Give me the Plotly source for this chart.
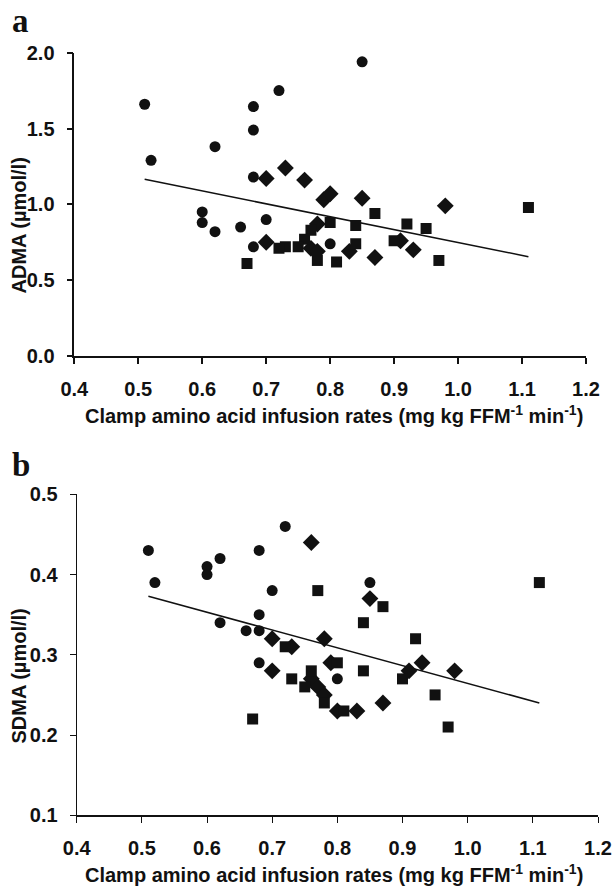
import plotly.graph_objects as go

# ---------------- data: panel a (ADMA) ----------------
a_circle_x = [0.51, 0.52, 0.62, 0.68, 0.68, 0.68, 0.72, 0.85, 0.60, 0.60, 0.62, 0.66, 0.70, 0.68, 0.80]
a_circle_y = [1.66, 1.29, 1.38, 1.645, 1.49, 1.18, 1.75, 1.94, 0.95, 0.88, 0.82, 0.85, 0.90, 0.72, 0.74]
a_diamond_x = [0.70, 0.73, 0.76, 0.79, 0.80, 0.85, 0.98, 0.70, 0.78, 0.77, 0.78, 0.83, 0.87, 0.91, 0.93]
a_diamond_y = [1.17, 1.24, 1.16, 1.03, 1.07, 1.04, 0.99, 0.75, 0.87, 0.71, 0.69, 0.69, 0.65, 0.76, 0.70]
a_square_x = [0.87, 1.11, 0.92, 0.95, 0.90, 0.97, 0.80, 0.84, 0.84, 0.77, 0.76, 0.75, 0.73, 0.72, 0.67, 0.78, 0.81]
a_square_y = [0.94, 0.98, 0.87, 0.84, 0.76, 0.63, 0.88, 0.86, 0.74, 0.83, 0.77, 0.72, 0.72, 0.71, 0.61, 0.63, 0.62]
a_fit_x = [0.51, 1.11]
a_fit_y = [1.165, 0.655]

# ---------------- data: panel b (SDMA) ----------------
b_circle_x = [0.51, 0.52, 0.60, 0.60, 0.62, 0.68, 0.72, 0.70, 0.62, 0.68, 0.66, 0.68, 0.85, 0.68, 0.80]
b_circle_y = [0.43, 0.39, 0.41, 0.40, 0.42, 0.43, 0.46, 0.38, 0.34, 0.35, 0.33, 0.33, 0.39, 0.29, 0.27]
b_diamond_x = [0.76, 0.85, 0.70, 0.78, 0.73, 0.79, 0.93, 0.70, 0.91, 0.98, 0.76, 0.77, 0.78, 0.80, 0.83, 0.87]
b_diamond_y = [0.44, 0.37, 0.32, 0.32, 0.31, 0.29, 0.29, 0.28, 0.28, 0.28, 0.27, 0.26, 0.25, 0.23, 0.23, 0.24]
b_square_x = [1.11, 0.77, 0.87, 0.84, 0.92, 0.72, 0.80, 0.76, 0.84, 0.90, 0.73, 0.75, 0.78, 0.81, 0.67, 0.95, 0.97]
b_square_y = [0.39, 0.38, 0.36, 0.34, 0.32, 0.31, 0.29, 0.28, 0.28, 0.27, 0.27, 0.26, 0.24, 0.23, 0.22, 0.25, 0.21]
b_fit_x = [0.51, 1.11]
b_fit_y = [0.373, 0.240]

x_ticks = [0.4, 0.5, 0.6, 0.7, 0.8, 0.9, 1.0, 1.1, 1.2]
a_y_ticks = [0.0, 0.5, 1.0, 1.5, 2.0]
b_y_ticks = [0.1, 0.2, 0.3, 0.4, 0.5]

x_title = "Clamp amino acid infusion rates (mg kg FFM<sup>-1</sup> min<sup>-1</sup>)"
a_y_title = "ADMA (µmol/l)"
b_y_title = "SDMA (µmol/l)"

# ---------------- layout helpers ----------------
W, H = 614, 890
def px(x):
    return x / W
def py(y):
    return 1 - y / H

INK = "#111111"
FONT = "Arial, Liberation Sans, sans-serif"

def bold_labels(vals):
    return ["<b>%.1f</b>" % v for v in vals]

fig = go.Figure()

def add_panel(cx, cy, dx, dy, sx, sy, fx, fy, xa, ya):
    fig.add_trace(go.Scatter(x=fx, y=fy, mode="lines", line=dict(color=INK, width=1.5),
                             xaxis=xa, yaxis=ya, hoverinfo="skip"))
    fig.add_trace(go.Scatter(x=cx, y=cy, mode="markers",
                             marker=dict(symbol="circle", size=11, color=INK),
                             xaxis=xa, yaxis=ya))
    fig.add_trace(go.Scatter(x=dx, y=dy, mode="markers",
                             marker=dict(symbol="diamond", size=13, color=INK),
                             xaxis=xa, yaxis=ya))
    fig.add_trace(go.Scatter(x=sx, y=sy, mode="markers",
                             marker=dict(symbol="square", size=11, color=INK),
                             xaxis=xa, yaxis=ya))

add_panel(a_circle_x, a_circle_y, a_diamond_x, a_diamond_y, a_square_x, a_square_y,
          a_fit_x, a_fit_y, "x", "y")
add_panel(b_circle_x, b_circle_y, b_diamond_x, b_diamond_y, b_square_x, b_square_y,
          b_fit_x, b_fit_y, "x2", "y2")

tickfont = dict(family=FONT, size=20, color=INK)
axis_common = dict(showline=True, linecolor=INK, ticks="outside", ticklen=6,
                   tickcolor=INK, showgrid=False, zeroline=False, tickfont=tickfont,
                   automargin=False)

fig.update_layout(
    template="none",
    width=W, height=H,
    margin=dict(l=0, r=0, t=0, b=0, pad=0),
    paper_bgcolor="white", plot_bgcolor="white",
    showlegend=False,
    xaxis=dict(domain=[px(74.3), px(586)], range=[0.4, 1.2], tickvals=x_ticks,
               ticktext=bold_labels(x_ticks),
               anchor="y", linewidth=2, tickwidth=1.5, ticklabelstandoff=8, **axis_common),
    yaxis=dict(domain=[py(356), py(52.7)], range=[0, 2.0], tickvals=a_y_ticks,
               ticktext=bold_labels(a_y_ticks),
               anchor="x", linewidth=1.5, tickwidth=1.5, ticklabelstandoff=8, **axis_common),
    xaxis2=dict(domain=[px(76.7), px(598)], range=[0.4, 1.2], tickvals=x_ticks,
                ticktext=bold_labels(x_ticks),
                anchor="y2", linewidth=1.5, tickwidth=1.2, ticklabelstandoff=8, **axis_common),
    yaxis2=dict(domain=[py(815.3), py(494.3)], range=[0.1, 0.5], tickvals=b_y_ticks,
                ticktext=bold_labels(b_y_ticks),
                anchor="x2", linewidth=1.2, tickwidth=1.2, ticklabelstandoff=8, **axis_common),
)

title_font = dict(family=FONT, size=20, color=INK)
label_font = dict(family="Times New Roman, Liberation Serif, serif", size=33, color=INK)

annotations = [
    dict(text="<b>" + x_title + "</b>", x=px(333.6), y=py(414), font=title_font),
    dict(text="<b>" + x_title + "</b>", x=px(333.6), y=py(873.5), font=title_font),
    dict(text="<b>" + a_y_title + "</b>", x=px(18.5), y=py(226), font=title_font, textangle=-90),
    dict(text="<b>" + b_y_title + "</b>", x=px(18.5), y=py(676), font=title_font, textangle=-90),
    dict(text="<b>a</b>", x=px(20), y=py(21), font=label_font),
    dict(text="<b>b</b>", x=px(21), y=py(465), font=label_font),
]
for a in annotations:
    fig.add_annotation(xref="paper", yref="paper", showarrow=False,
                       xanchor="center", yanchor="middle", **a)

fig.write_html(
    "out.html",
    config={"displayModeBar": False, "responsive": False},
    post_script="document.body.style.margin='0';document.body.style.overflow='hidden';",
)
